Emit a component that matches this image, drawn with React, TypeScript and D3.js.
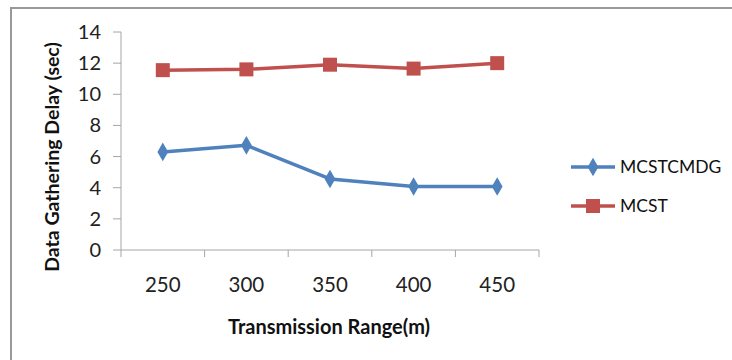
import React from "react";
import { scaleBand, scaleLinear, line, symbol, symbolDiamond, symbolSquare } from "d3";

// Transmission range categories (m)
const ranges = ["250", "300", "350", "400", "450"];
// Data gathering delay (sec)
const mcstcmdg = [6.3, 6.72, 4.56, 4.08, 4.08];
const mcst = [11.55, 11.6, 11.9, 11.65, 12.0];
const yTicks = [0, 2, 4, 6, 8, 10, 12, 14];

const series = [
  { name: "MCSTCMDG", values: mcstcmdg, color: "#4F81BD", shape: "diamond" },
  { name: "MCST", values: mcst, color: "#C0504D", shape: "square" },
];

const font = "Lato, 'Liberation Sans', sans-serif";

export default function App() {
  const width = 732;
  const height = 360;
  const plot = { left: 121, right: 539, top: 32, bottom: 250 };

  const x = scaleBand().domain(ranges).range([plot.left, plot.right]);
  const y = scaleLinear().domain([0, 14]).range([plot.bottom, plot.top]);
  const cx = (c: string) => x(c)! + x.bandwidth() / 2;

  const diamond = symbol().type(symbolDiamond).size(100)()!;
  const square = symbol().type(symbolSquare).size(196)()!;

  const path = line<number>()
    .x((_, i) => cx(ranges[i]))
    .y((v) => y(v));

  const axisColor = "#A6A6A6";

  return (
    <div style={{ position: "absolute", left: 0, top: 0 }}>
      <svg width={width} height={height} style={{ display: "block", background: "#fff" }}>
        {/* Chart frame (only top and left edges are visible) */}
        <rect x={11} y={8} width={width + 20} height={height + 20} fill="none" stroke="#999" strokeWidth={2} />

        {/* Y axis */}
        <line x1={plot.left} x2={plot.left} y1={plot.top} y2={plot.bottom} stroke={axisColor} strokeWidth={1} />
        {yTicks.map((t) => (
          <g key={t}>
            <line x1={plot.left - 8} x2={plot.left} y1={y(t)} y2={y(t)} stroke={axisColor} />
            <text x={plot.left - 20} y={y(t)} dy="0.35em" textAnchor="end" fontFamily={font} fontSize={20} fill="#222">
              {t}
            </text>
          </g>
        ))}

        {/* X axis */}
        <line x1={plot.left} x2={plot.right} y1={plot.bottom} y2={plot.bottom} stroke={axisColor} strokeWidth={1} />
        {[...ranges.map((c) => x(c)!), plot.right].map((p, i) => (
          <line key={i} x1={p} x2={p} y1={plot.bottom} y2={plot.bottom + 7} stroke={axisColor} />
        ))}
        {ranges.map((c) => (
          <text key={c} x={cx(c)} y={285} dy="0.35em" textAnchor="middle" fontFamily={font} fontSize={20.5} fill="#222">
            {c}
          </text>
        ))}

        {/* Axis titles */}
        <text x={329} y={327} dy="0.35em" textAnchor="middle" fontFamily={font} fontSize={20} fontWeight="bold" fill="#111">
          Transmission Range(m)
        </text>
        <text
          transform={`translate(52,157) rotate(-90)`}
          dy="0.35em"
          textAnchor="middle"
          fontFamily={font}
          fontSize={19.5}
          fontWeight="bold"
          fill="#111"
        >
          Data Gathering Delay (sec)
        </text>

        {/* Series */}
        {series.map((s) => (
          <g key={s.name}>
            <path d={path(s.values)!} fill="none" stroke={s.color} strokeWidth={3.5} strokeLinejoin="round" />
            {s.values.map((v, i) => (
              <path
                key={i}
                d={s.shape === "diamond" ? diamond : square}
                transform={`translate(${cx(ranges[i])},${y(v)})`}
                fill={s.color}
              />
            ))}
          </g>
        ))}

        {/* Legend */}
        {series.map((s, i) => {
          const ly = 167 + i * 39;
          return (
            <g key={s.name}>
              <line x1={571} x2={615} y1={ly} y2={ly} stroke={s.color} strokeWidth={3.5} />
              <path d={s.shape === "diamond" ? diamond : square} transform={`translate(593,${ly})`} fill={s.color} />
              <text x={620} y={ly} dy="0.35em" fontFamily={font} fontSize={17.5} fill="#111">
                {s.name}
              </text>
            </g>
          );
        })}
      </svg>
    </div>
  );
}
